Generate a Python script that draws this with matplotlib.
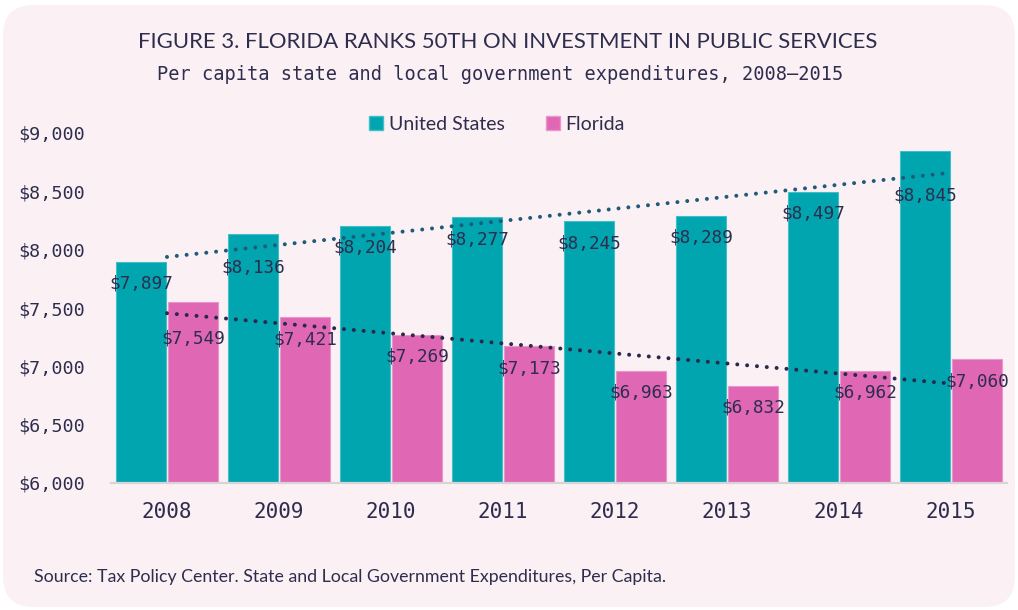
import numpy as np
import matplotlib
matplotlib.use("Agg")
import matplotlib.pyplot as plt
from matplotlib.patches import FancyBboxPatch, Patch

# data
years = ["2008", "2009", "2010", "2011", "2012", "2013", "2014", "2015"]
us_values = [7897, 8136, 8204, 8277, 8245, 8289, 8497, 8845]
fl_values = [7549, 7421, 7269, 7173, 6963, 6832, 6962, 7060]
series_names = ["United States", "Florida"]
y_ticks = [6000, 6500, 7000, 7500, 8000, 8500, 9000]

# style
TEAL = "#00a5b0"
PINK = "#e067b4"
TEAL_EDGE = "#3fc0c8"
PINK_EDGE = "#ec95cc"
US_TREND = "#1e5b78"
FL_TREND = "#2b2849"
TEXT = "#2e2d4d"
BG = "#fbf1f5"
MONO = "DejaVu Sans Mono"
SANS = "Lato"

# label pushed further down (px) where the original moved it off the trend line
label_nudge = {("us", 1): 12, ("fl", 0): 14, ("us", 7): 22}

fig = plt.figure(figsize=(10.18, 6.10), dpi=100)
fig.patch.set_facecolor("white")
bg = FancyBboxPatch((3 / 1018, 3 / 610), 1012 / 1018, 602 / 610,
                    boxstyle="round,pad=0,rounding_size=0.03",
                    transform=fig.transFigure, facecolor=BG, edgecolor="none",
                    mutation_aspect=1018 / 610, zorder=-10)
fig.patches.append(bg)

ax = fig.add_axes([111 / 1018, 1 - 483 / 610, (1007 - 111) / 1018, 350 / 610])
ax.set_facecolor("none")

x = np.arange(len(years))
w = 0.455
off = 0.232
ax.bar(x - off, us_values, w, color=TEAL, edgecolor=TEAL_EDGE, linewidth=0.8, zorder=2)
ax.bar(x + off, fl_values, w, color=PINK, edgecolor=PINK_EDGE, linewidth=0.8, zorder=2)

# linear trend lines
for vals, col in [(us_values, US_TREND), (fl_values, FL_TREND)]:
    k, b = np.polyfit(x, vals, 1)
    ax.plot([x[0], x[-1]], [b, k * x[-1] + b], color=col, linewidth=2.9,
            linestyle=(0, (0.001, 2.45)), dash_capstyle="round", zorder=3)

# value labels
for key, vals, dx in [("us", us_values, -off), ("fl", fl_values, off)]:
    for i, v in enumerate(vals):
        d = 22 + label_nudge.get((key, i), 0)
        ax.annotate(f"${v:,}", (x[i] + dx, v), xytext=(0, -d * 0.72),
                    textcoords="offset points", ha="center", va="center",
                    fontsize=12.8, family=MONO, color=TEXT, zorder=4)

ax.set_xlim(-0.5, 7.5)
ax.set_ylim(6000, 9000)
ax.set_yticks(y_ticks)
ax.set_yticklabels([f"${t:,}" for t in y_ticks], family=MONO, fontsize=13.2, color=TEXT)
ax.set_xticks(x)
ax.set_xticklabels(years, family=MONO, fontsize=15, color=TEXT)
ax.tick_params(axis="y", length=0, pad=19)
ax.tick_params(axis="x", length=0, pad=14)
for s in ["top", "right", "left"]:
    ax.spines[s].set_visible(False)
ax.spines["bottom"].set_color("#d9d3d8")
ax.spines["bottom"].set_linewidth(1.6)

handles = [Patch(facecolor=TEAL, edgecolor=TEAL_EDGE), Patch(facecolor=PINK, edgecolor=PINK_EDGE)]
leg = fig.legend(handles, series_names, loc="center", bbox_to_anchor=(497 / 1018, 1 - 124 / 610),
                 ncol=2, frameon=False, handlelength=0.72, handleheight=0.72,
                 handletextpad=0.3, columnspacing=2.1, prop={"family": SANS, "size": 14})
for t in leg.get_texts():
    t.set_color(TEXT)

fig.text(508 / 1018, 1 - 42 / 610, "FIGURE 3. FLORIDA RANKS 50TH ON INVESTMENT IN PUBLIC SERVICES",
         ha="center", va="center", family=SANS, fontsize=15.9, color=TEXT)
fig.text(500 / 1018, 1 - 74 / 610, "Per capita state and local government expenditures, 2008\u20132015",
         ha="center", va="center", family=MONO, fontsize=13.4, color=TEXT)
fig.text(34 / 1018, 1 - 577 / 610,
         "Source: Tax Policy Center. State and Local Government Expenditures, Per Capita.",
         ha="left", va="center", family=SANS, fontsize=12.8, color=TEXT)

fig.savefig("out.png", dpi=100, facecolor=fig.get_facecolor())
